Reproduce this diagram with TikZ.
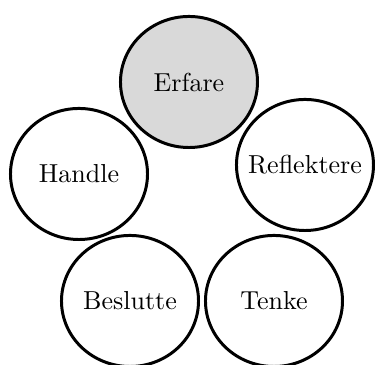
\documentclass[tikz,border=0pt]{standalone}
\usepackage{tikz}
\definecolor{lightgray}{RGB}{217,217,217}

\begin{document}
\begin{tikzpicture}[x=0.3846pt, y=-0.3846pt,
    phase/.style={inner sep=0pt, align=center, font=\normalsize},
    ring/.style={draw, line width=1.15pt}]

    \useasboundingbox (0,0) rectangle (375,365);

    % the rings first, the names on top
    \path[ring, fill=lightgray] (189,82) ellipse [x radius=26.35pt, y radius=25.2pt];
    \path[ring] (305,165) ellipse [x radius=26.35pt, y radius=25.2pt];
    \path[ring] (274,301) ellipse [x radius=26.35pt, y radius=25.2pt];
    \path[ring] (130,301) ellipse [x radius=26.35pt, y radius=25.2pt];
    \path[ring] (79,174) ellipse [x radius=26.35pt, y radius=25.2pt];

    \node[phase] (erf) at (189,82) {Erfare};
    \node[phase] (ref) at (305,165) {Reflektere};
    \node[phase] (ten) at (274,301) {Tenke};
    \node[phase] (bes) at (130,301) {Beslutte};
    \node[phase] (han) at (79,174) {Handle};
\end{tikzpicture}
\end{document}
